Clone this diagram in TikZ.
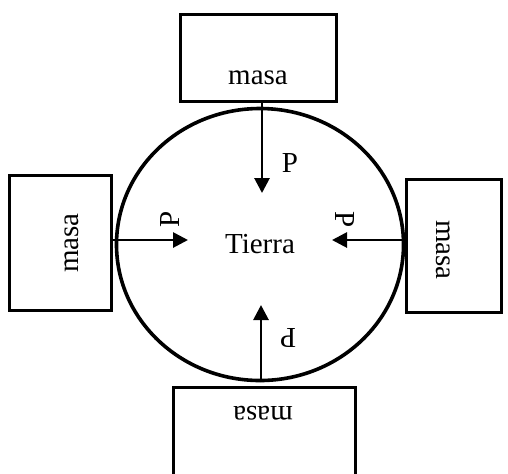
\documentclass[tikz,border=0pt]{standalone}
\usepackage{fontspec}
\setmainfont{Liberation Serif}
\usepackage{tikz}
\usetikzlibrary{positioning,arrows.meta,shapes.geometric}
\tikzset{
  masabox/.style={draw, line width=1.8pt, rectangle, inner sep=0pt},
  planeta/.style={draw, line width=1.8pt, ellipse, inner sep=0pt,
    minimum width=143.5pt, minimum height=136pt, font=\fontsize{14.5}{17}\selectfont},
  rotulo/.style={inner sep=0pt, font=\fontsize{14.5}{17}\selectfont},
  fuerza/.style={-{Triangle[length=7.5pt,width=7.5pt]}, line width=1.4pt}
}
\begin{document}
\begin{tikzpicture}[x=0.5pt, y=-0.5pt]
    \useasboundingbox (0,0) rectangle (508,473);

    \node[planeta] (tierra) at (260,244.5) {Tierra};

    \node[masabox, minimum width=78pt, minimum height=43.5pt] (masaArriba) at (258.5,58) {};
    \node[masabox, minimum width=51pt, minimum height=67.5pt] (masaIzq) at (60.5,243) {};
    \node[masabox, minimum width=47.5pt, minimum height=66.5pt] (masaDer) at (454,246) {};
    \node[masabox, minimum width=91pt, minimum height=50pt] (masaAbajo) at (264.5,437.5) {};

    \node[rotulo] (txtArriba) at (258,78) {masa};
    \node[rotulo, rotate=90] (txtIzq) at (72,243) {masa};
    \node[rotulo, rotate=-90] (txtDer) at (443,250) {masa};
    \node[rotulo, rotate=180] (txtAbajo) at (263,413) {masa};

    \coordinate (fArriba) at (262,193);
    \coordinate (fIzq) at (188,240);
    \coordinate (fDer) at (332,240);
    \coordinate (fAbajo) at (261,305);

    \draw[fuerza] (masaArriba.south -| fArriba) -- (fArriba);
    \draw[fuerza] (masaIzq.east |- fIzq) -- (fIzq);
    \draw[fuerza] (masaDer.west |- fDer) -- (fDer);
    \draw[fuerza] (tierra.south -| fAbajo) -- (fAbajo);

    \node[rotulo] (pArriba) at (290,163) {P};
    \node[rotulo, rotate=90] (pIzq) at (170,219) {P};
    \node[rotulo, rotate=-90] (pDer) at (345,220) {P};
    \node[rotulo, rotate=180] (pAbajo) at (288,338) {P};
  \end{tikzpicture}
\end{document}
